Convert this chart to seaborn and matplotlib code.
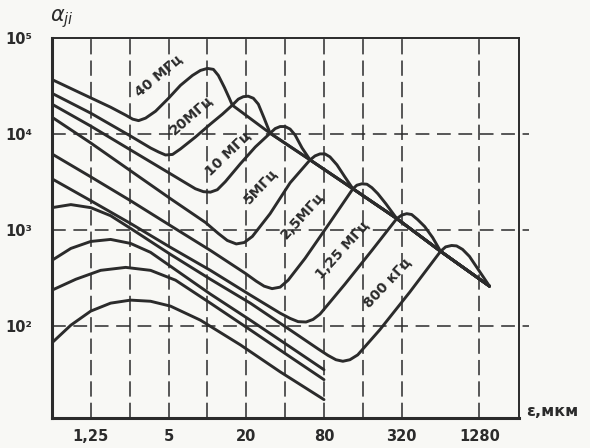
import numpy as np
import pandas as pd
import matplotlib
matplotlib.use("Agg")
import matplotlib.pyplot as plt
import seaborn as sns

# grain size (mkm) and attenuation values
# common descending envelope on the right (joints J1..J6 and the tip)
ENV_X = [15.6, 30.6, 62.4, 134, 293, 640, 1530]
ENV_Y = [20000, 10200, 5380, 2690, 1315, 600, 260]

C40_X = [0.625, 1.05, 1.78, 2.33, 2.64, 2.93, 3.32, 3.97, 5.0, 6.19, 7.66, 8.83, 10.0, 11.13,
         12.16, 13.53, 14.79]
C40_Y = [37000, 26600, 19050, 15740, 14300, 13800, 14650, 17300, 23600, 32200, 40800, 46000,
         48300, 47200, 40800, 30700, 23600]

C20_X = [0.625, 1.25, 2.54, 3.63, 4.19, 4.74, 5.37, 6.19, 8.08, 10.55, 13.06, 15.6, 17.35,
         18.96, 20.7, 22.7, 24.8, 27.5]
C20_Y = [26600, 16500, 9530, 7160, 6500, 6050, 6130, 7000, 9310, 12700, 16100, 20000, 23100,
         24500, 24800, 23600, 20500, 14650]

C10_X = [0.625, 1.25, 2.54, 5.18, 6.77, 8.08, 9.31, 10.55, 11.94, 13.77, 17.98, 23.5, 30.6,
         33.5, 36.6, 40, 43.7, 47.8, 54.1]
C10_Y = [20500, 12100, 6830, 3850, 3100, 2690, 2510, 2480, 2630, 3190, 4890, 7330, 10200,
         11400, 11970, 11970, 11270, 9770, 7160]

C5_X = [0.625, 1.25, 2.54, 5.18, 9.65, 12.16, 14.27, 16.74, 19.3, 22.3, 30.6, 43.7, 62.4,
        68.2, 74.5, 81.4, 89, 100.8, 116]
C5_Y = [15000, 8070, 4140, 2120, 1200, 920, 778, 716, 741, 857, 1480, 3100, 5380,
        5920, 6210, 6210, 5780, 4780, 3580]

C2_5_X = [0.625, 1.25, 2.54, 5.18, 10.55, 19.65, 23.9, 27.5, 31.7, 36.6, 42.2, 57.1, 89, 134,
          143.8, 157, 172, 188, 209, 241]
C2_5_Y = [6210, 3580, 2020, 1110, 613, 354, 293, 260, 245, 254, 300, 507, 1200, 2690,
          2930, 3030, 3000, 2760, 2390, 1880]

C1_25_X = [0.625, 1.25, 2.54, 5.18, 10.55, 21.5, 36.6, 43.7, 50.4, 58.1, 65.8, 74.5, 116, 188,
           293, 320, 350, 382, 425, 482, 555]
C1_25_Y = [3420, 2020, 1170, 659, 380, 210, 136, 120, 111, 110, 117, 133, 272, 613,
           1315, 1430, 1480, 1450, 1285, 1087, 836]

C0_8_X = [0.625, 0.876, 1.25, 1.78, 2.54, 5.18, 10.55, 21.5, 43.7, 71.9, 85.9, 99, 112, 127,
          146, 216, 369, 640, 700, 778, 851, 947, 1071, 1235]
C0_8_Y = [1710, 1840, 1710, 1410, 1040, 557, 307, 173, 91, 57.8, 49.4, 44.5, 42.9, 44.5,
          50, 91, 225, 600, 667, 690, 683, 628, 531, 399]

# lower curves, ending at 80 mkm
H1_X = [0.625, 0.876, 1.25, 1.78, 2.54, 3.63, 5.18, 10.55, 21.5, 43.7, 80]
H1_Y = [483, 643, 760, 798, 725, 585, 419, 215, 115, 60.6, 35]
H2_X = [0.625, 0.958, 1.49, 2.33, 3.63, 5.67, 10.55, 21.5, 43.7, 80]
H2_Y = [236, 307, 380, 408, 380, 300, 173, 91, 47.7, 27.6]
H3_X = [0.625, 0.876, 1.25, 1.78, 2.54, 3.63, 5.18, 8.83, 18, 36.6, 80]
H3_Y = [66.7, 102, 143, 173, 186, 181, 161, 115, 63.6, 33.3, 17.1]

LABELS = ["40 МГц", "20МГц", "10 МГц", "5МГц", "2,5МГц", "1,25 МГц", "800 кГц"]
LABEL_X = [4.5, 8.08, 15.6, 28, 59.2, 120, 268]
LABEL_Y = [36300, 14000, 5500, 2570, 1250, 545, 248]
LABEL_ROT = [40, 41, 44, 47, 48, 48, 47]

X_TICKS = [1.25, 5, 20, 80, 320, 1280]
X_TICK_LABELS = ["1,25", "5", "20", "80", "320", "1280"]
X_GRID = [1.25, 2.5, 5, 10, 20, 40, 80, 160, 320, 1280]
Y_TICKS = [1e2, 1e3, 1e4, 1e5]
Y_TICK_LABELS = ["10²", "10³", "10⁴", "10⁵"]
Y_GRID = [1e2, 1e3, 1e4]


def build_frame():
    # curve name, x, y, index of the envelope joint where the curve merges (None = no merge)
    curves = [
        ("40", C40_X, C40_Y, 0),
        ("20", C20_X, C20_Y, 1),
        ("10", C10_X, C10_Y, 2),
        ("5", C5_X, C5_Y, 3),
        ("2.5", C2_5_X, C2_5_Y, 4),
        ("1.25", C1_25_X, C1_25_Y, 5),
        ("0.8", C0_8_X, C0_8_Y, 6),
        ("h1", H1_X, H1_Y, None),
        ("h2", H2_X, H2_Y, None),
        ("h3", H3_X, H3_Y, None),
    ]
    rows = []
    for name, xs, ys, j in curves:
        xs = list(xs)
        ys = list(ys)
        if j is not None:
            xs += ENV_X[j:]
            ys += ENV_Y[j:]
        for i, (x, y) in enumerate(zip(xs, ys)):
            rows.append({"curve": name, "order": i, "l": x, "alpha": y})
    return pd.DataFrame(rows)


def main():
    df = build_frame()
    ink = "#2b2b2b"

    sns.set_style("white")
    plt.rcParams["font.family"] = ["DejaVu Sans"]

    fig = plt.figure(figsize=(5.9, 4.48), dpi=100)
    fig.patch.set_facecolor("#f8f8f5")
    ax = fig.add_axes([0.088, 0.067, 0.792, 0.848])
    ax.set_facecolor("#f8f8f5")

    ax.set_xscale("log", base=2)
    ax.set_yscale("log")
    ax.set_xlim(0.625, 2600)
    ax.set_ylim(11, 1e5)

    for gx in X_GRID:
        ax.axvline(gx, color=ink, lw=1.1, dashes=(10, 4), zorder=1)
    for gy in Y_GRID:
        ax.axhline(gy, xmax=1.02, color=ink, lw=1.1, dashes=(9, 5), zorder=1, clip_on=False)

    sns.lineplot(data=df, x="l", y="alpha", units="curve", estimator=None, sort=False,
                 color=ink, lw=2.1, ax=ax, legend=False, zorder=3)

    for txt, lx, ly, rot in zip(LABELS, LABEL_X, LABEL_Y, LABEL_ROT):
        ax.annotate(txt, (lx, ly), xytext=(-3, 3.5), textcoords="offset points",
                    rotation=rot, ha="center", va="center", fontsize=10,
                    fontweight="bold", color=ink, rotation_mode="anchor", zorder=4)

    ax.set_xticks(X_TICKS)
    ax.set_xticklabels(X_TICK_LABELS)
    ax.set_yticks(Y_TICKS)
    ax.set_yticklabels(Y_TICK_LABELS)
    ax.minorticks_off()
    ax.tick_params(axis="both", length=0, labelsize=10.5, colors=ink)
    ax.tick_params(axis="x", pad=8)
    ax.tick_params(axis="y", pad=14)
    for lab in ax.get_xticklabels() + ax.get_yticklabels():
        lab.set_fontweight("bold")

    ax.set_xlabel("")
    ax.set_ylabel("")
    for side, w in [("left", 2.2), ("bottom", 2.2), ("top", 1.4), ("right", 1.4)]:
        ax.spines[side].set_color(ink)
        ax.spines[side].set_linewidth(w)

    ax.text(-0.005, 1.05, r"$\alpha_{ji}$", transform=ax.transAxes, fontsize=15,
            color=ink, ha="left", va="center")
    ax.text(1.015, 0.016, "ε,мкм", transform=ax.transAxes, fontsize=11.5,
            fontweight="bold", color=ink, ha="left", va="center")

    fig.savefig("out.png", dpi=100, facecolor=fig.get_facecolor())
    plt.close(fig)


if __name__ == "__main__":
    main()
